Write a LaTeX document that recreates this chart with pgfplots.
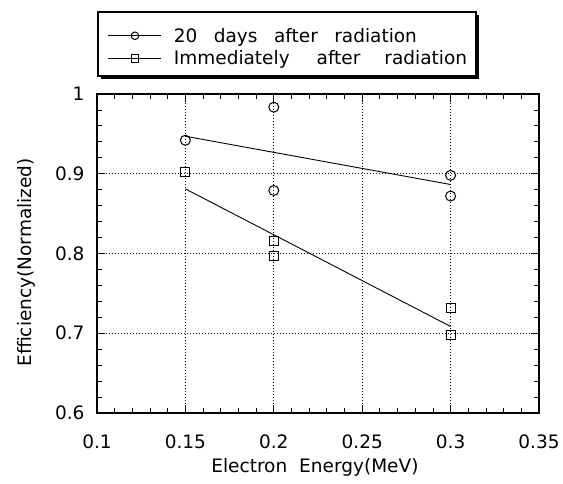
\documentclass[border=0pt]{standalone}
\usepackage{pgfplots}
\pgfplotsset{compat=1.18}
\usepackage{fontspec}
\setmainfont{DejaVu Sans}
\newcommand{\cf}{\fontsize{18.5}{22}\selectfont}
\begin{document}
\begin{tikzpicture}
\path[use as bounding box] (0,0) rectangle (563pt,484pt);
\begin{axis}[
  at={(97pt,71pt)}, anchor=south west,
  scale only axis, width=442pt, height=319pt,
  xmin=0.1, xmax=0.35, ymin=0.6, ymax=1,
  xtick={0.1,0.15,0.2,0.25,0.3,0.35},
  xticklabels={0.1,0.15,0.2,0.25,0.3,0.35},
  ytick={0.6,0.7,0.8,0.9,1},
  yticklabels={0.6,0.7,0.8,0.9,1},
  minor x tick num=4, minor y tick num=4,
  tick align=inside,
  major tick length=8pt, minor tick length=5pt,
  every tick/.style={black, line width=0.8pt},
  axis line style={black, line width=1.2pt},
  grid=major,
  major grid style={black, line width=0.9pt, dash pattern=on 1pt off 2pt},
  /pgf/number format/assume math mode=true,
  tick label style={font=\cf},
  xticklabel style={yshift=-18pt},
  yticklabel style={xshift=-9pt},
  xlabel={Electron\hspace{12pt}Energy(MeV)},
  ylabel={Efficiency(Normalized)},
  label style={font=\cf},
  xlabel style={at={(axis description cs:0.493,-0.188)}, anchor=base},
  ylabel style={at={(axis description cs:-0.160,0.472)}, anchor=center},
  legend style={draw=none, fill=none,
    at={(rel axis cs:0.002,1.242)}, anchor=north west,
    inner xsep=10pt, inner ysep=11pt, row sep=7pt,
    /tikz/every odd column/.append style={column sep=12pt},
    font=\cf, nodes={inner sep=0pt, anchor=west}},
  legend cell align=left,
  legend image code/.code={
    \draw[black, line width=0.8pt] (0pt,0pt) -- (53pt,0pt);
    \draw[mark repeat=2, mark phase=2, #1, mark size=3.8pt] plot coordinates {(0pt,0pt) (26.5pt,0pt) (53pt,0pt)};
  },
]
\addplot[forget plot, black, line width=0.9pt] coordinates {(0.15,0.947) (0.3,0.8865)};
\addplot[forget plot, black, line width=0.9pt] coordinates {(0.15,0.881) (0.3,0.7085)};
\addplot[only marks, mark=o, mark size=5pt, mark options={black, line width=1pt, fill=white}]
  coordinates {(0.15,0.942) (0.2,0.9835) (0.2,0.879) (0.3,0.898) (0.3,0.872)};
\addlegendentry{20\hspace{16.5pt}days\hspace{16.5pt}after\hspace{16.5pt}radiation}
\addplot[only marks, mark=square, mark size=4.5pt, mark options={black, line width=1pt, fill=white}]
  coordinates {(0.15,0.902) (0.2,0.816) (0.2,0.797) (0.3,0.7315) (0.3,0.698)};
\addlegendentry{Immediately\hspace{27pt}after\hspace{24pt}radiation}
\end{axis}
\draw[black, line width=1.4pt] (98pt,408pt) rectangle (476pt,472pt);
\draw[black, line width=3pt] (101pt,406.5pt) -- (477.5pt,406.5pt) -- (477.5pt,469pt);
\end{tikzpicture}
\end{document}
